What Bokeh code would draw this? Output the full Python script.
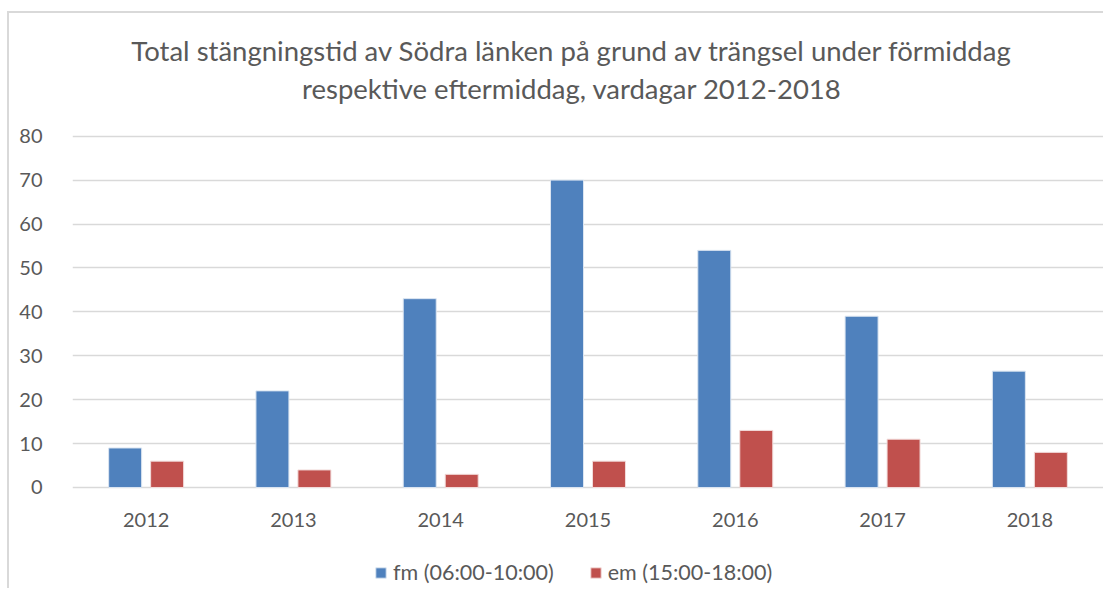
from bokeh.plotting import figure
from bokeh.models import FactorRange, Range1d, Legend, LegendItem, FixedTicker, ColumnDataSource, Label
from bokeh.transform import dodge
from bokeh.embed import file_html
from bokeh.resources import INLINE

years = ["2012", "2013", "2014", "2015", "2016", "2017", "2018"]
fm_values = [9, 22, 43, 70, 54, 39, 26.5]
em_values = [6, 4, 3, 6, 13, 11, 8]
series_labels = ["fm (06:00-10:00)", "em (15:00-18:00)"]
y_ticks = [0, 10, 20, 30, 40, 50, 60, 70, 80]
title_lines = ["Total stängningstid av Södra länken på grund av trängsel under förmiddag",
               "respektive eftermiddag, vardagar 2012-2018"]

BLUE = "#4F81BD"
RED = "#C0504D"
TXT = "#595959"
FONT = "Lato"

src = ColumnDataSource(dict(year=years, fm=fm_values, em=em_values,
                            label_y=[-7.3] * len(years)))

p = figure(width=1103, height=588, x_range=FactorRange(*years), y_range=Range1d(-23.0, 110.9),
           output_backend="svg", toolbar_location=None,
           min_border_left=72, min_border_right=0, min_border_top=0, min_border_bottom=0)
p.x_range.range_padding = 0
p.border_fill_alpha = 0
p.background_fill_alpha = 0
p.styles = {
    "background-image": "linear-gradient(#d9d9d9, #d9d9d9), linear-gradient(#d9d9d9, #d9d9d9)",
    "background-size": "2px 100%, 100% 2px",
    "background-position": "7px 11px, 7px 11px",
    "background-repeat": "no-repeat",
}

# title (two centred lines)
for txt, ys in zip(title_lines, (538, 500)):
    p.add_layout(Label(x=499.5, y=ys, x_units="screen", y_units="screen", text=txt,
                       text_align="center", text_baseline="middle", text_font=FONT,
                       text_font_size="27.5px", text_color=TXT))

r1 = p.vbar(x=dodge("year", -0.1425, range=p.x_range), top="fm", width=0.224, source=src,
            fill_color=BLUE, line_color="#dbe5f1", line_width=1)
r2 = p.vbar(x=dodge("year", 0.1425, range=p.x_range), top="em", width=0.224, source=src,
            fill_color=RED, line_color="#f2dcdb", line_width=1)

# category labels
p.text(x="year", y="label_y", text="year", source=src, text_align="center",
       text_baseline="middle", text_font={"value": FONT}, text_font_size="20px", text_color=TXT)

p.outline_line_color = None
p.xgrid.grid_line_color = None
p.xaxis.visible = False
p.ygrid.grid_line_color = "#d9d9d9"
p.ygrid.grid_line_width = 1.5
p.yaxis.ticker = FixedTicker(ticks=y_ticks)
p.yaxis.axis_line_color = None
p.yaxis.major_tick_line_color = None
p.yaxis.minor_tick_line_color = None
p.yaxis.major_label_text_font = FONT
p.yaxis.major_label_text_font_size = "20px"
p.yaxis.major_label_text_color = TXT
p.yaxis.major_label_standoff = 24

legend = Legend(items=[LegendItem(label=series_labels[0], renderers=[r1]),
                       LegendItem(label=series_labels[1], renderers=[r2])],
                orientation="horizontal", location=(302, 3),
                label_text_font=FONT, label_text_font_size="21.5px", label_text_color=TXT,
                glyph_width=13, glyph_height=13, spacing=35, label_standoff=6,
                border_line_color=None, background_fill_alpha=0, padding=0, margin=0)
p.add_layout(legend, "center")

open("out.html", "w").write(file_html(p, INLINE))
